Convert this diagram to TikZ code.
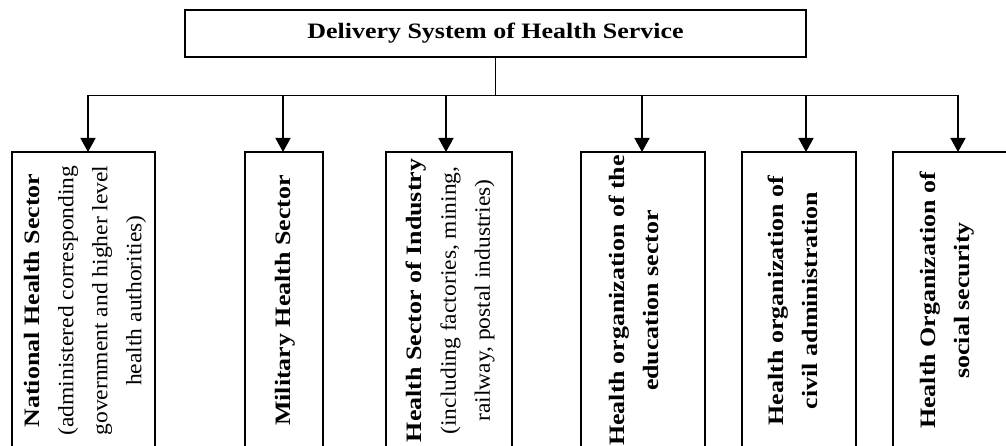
\documentclass[tikz,border=0pt]{standalone}
\usepackage{fontspec}
\setmainfont{Liberation Serif}[FakeStretch=1.07]
\newfontfamily\boldfam{Liberation Serif}[FakeStretch=1.18]
\usetikzlibrary{arrows.meta}
\newcommand{\bt}[1]{{\boldfam\bfseries #1}}
\newcommand{\vlines}[2][0pt]{\rotatebox{90}{\fontsize{22}{34}\selectfont\begin{tabular}{@{}c@{}}#2\end{tabular}}\hspace*{#1}}
\tikzset{
  frame/.style={draw, line width=1.6pt, rectangle, inner sep=0pt, outer sep=0pt},
  conn/.style={line width=1.6pt},
  arr/.style={line width=1.6pt, -{Triangle[length=14pt,width=15pt]}},
}
\begin{document}
\begin{tikzpicture}[x=1pt,y=-1pt]
\path[use as bounding box] (0,0) rectangle (1006,446);
\clip (0,0) rectangle (1006,446);
% top box
\node[frame, minimum width=621pt, minimum height=47pt, font=\fontsize{22}{26}\selectfont]
  (top) at (495.5,33.5) {\bt{Delivery System of Health Service}};
% lower boxes
\node[frame, minimum width=143pt, minimum height=297pt] (b1) at (83.5,300.5)
  {\vlines{\bt{National Health Sector}\\(administered corresponding\\government and higher level\\health authorities)}};
\node[frame, minimum width=78pt, minimum height=297pt] (b2) at (284,300.5)
  {\vlines{\bt{Military Health Sector}}};
\node[frame, minimum width=126pt, minimum height=297pt] (b3) at (449,300.5)
  {\vlines{\bt{Health Sector of Industry}\\(including factories, mining,\\railway, postal industries)}};
\node[frame, minimum width=124pt, minimum height=297pt] (b4) at (643,300.5)
  {\vlines[16pt]{\bt{Health organization of the}\\\bt{education sector}}};
\node[frame, minimum width=114pt, minimum height=297pt] (b5) at (799,300.5)
  {\vlines[10pt]{\bt{Health organization of}\\\bt{civil administration}}};
\node[frame, minimum width=114pt, minimum height=297pt] (b6) at (950,300.5)
  {\vlines[8pt]{\bt{Health Organization of}\\\bt{social security}}};
% bus
\coordinate (t1) at (88,95.5);
\coordinate (t2) at (283,95.5);
\coordinate (t3) at (446,95.5);
\coordinate (t4) at (642,95.5);
\coordinate (t5) at (806,95.5);
\coordinate (t6) at (958,95.5);
\draw[conn] (top.south) -- (top.south |- t1);
\draw[conn, line cap=rect] (t1) -- (t6);
\draw[arr] (t1) -- (t1 |- b1.north);
\draw[arr] (t2) -- (t2 |- b2.north);
\draw[arr] (t3) -- (t3 |- b3.north);
\draw[arr] (t4) -- (t4 |- b4.north);
\draw[arr] (t5) -- (t5 |- b5.north);
\draw[arr] (t6) -- (t6 |- b6.north);
\end{tikzpicture}
\end{document}
